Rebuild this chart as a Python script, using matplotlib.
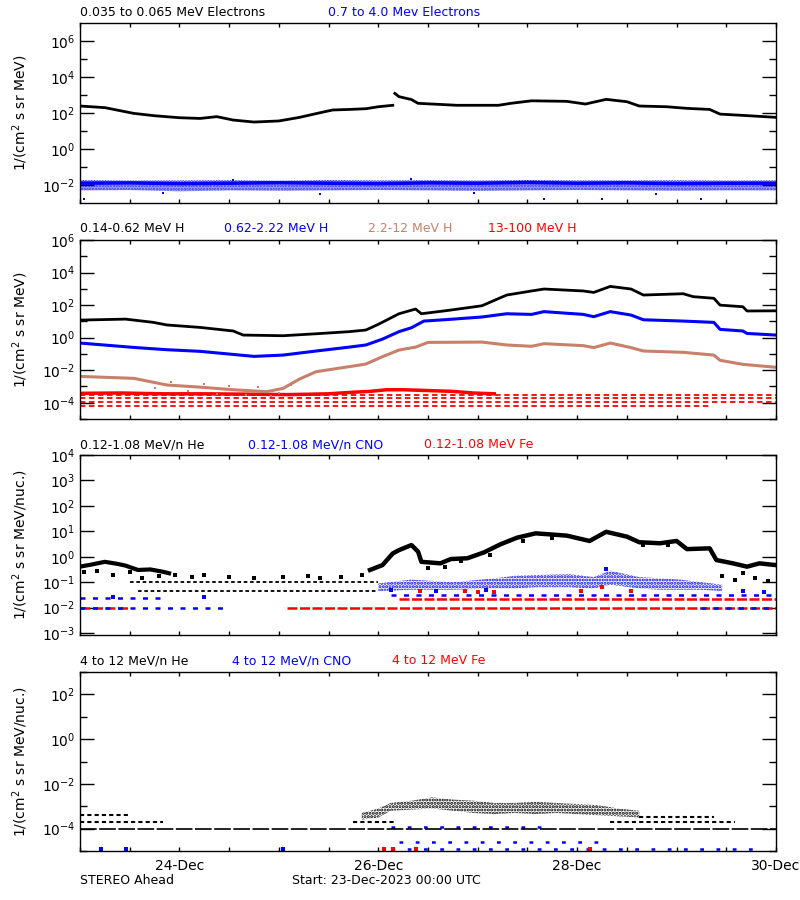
import numpy as np
import matplotlib.pyplot as plt

# time axis: hours since 23-Dec-2023 00:00 UTC, values stored as log10(intensity)

# ---- panel 1 : electrons
el_lo_t = [0, 6, 13, 18, 24, 29, 33, 37, 42, 48, 53, 58, 61, 65, 69, 72, 75.5]
el_lo_v = [2.39, 2.3, 1.98, 1.85, 1.74, 1.7, 1.8, 1.61, 1.5, 1.56, 1.76, 2.02, 2.17, 2.2, 2.24, 2.35, 2.43]
el_lo_t2 = [76, 77, 80, 81.6, 91, 101, 104, 109, 117.5, 122, 127, 132, 135, 141.6, 146.5, 152, 154.5, 160, 168]
el_lo_v2 = [3.09, 2.91, 2.75, 2.54, 2.43, 2.43, 2.54, 2.68, 2.65, 2.5, 2.76, 2.63, 2.39, 2.35, 2.26, 2.2, 1.94, 1.87, 1.76]
el_hi_t = [0, 12, 24, 36, 48, 60, 72, 84, 96, 108, 120, 132, 144, 156, 168]
el_hi_v = [-1.9, -1.88, -1.92, -1.9, -1.87, -1.9, -1.92, -1.88, -1.9, -1.86, -1.9, -1.88, -1.92, -1.9, -1.9]
el_hi_top = [-1.72, -1.75, -1.74, -1.73, -1.76, -1.72, -1.74, -1.73, -1.75, -1.72, -1.74, -1.74, -1.73, -1.75, -1.74]
el_hi_bot = [-2.3, -2.28, -2.35, -2.3, -2.32, -2.3, -2.28, -2.3, -2.33, -2.3, -2.28, -2.3, -2.32, -2.3, -2.3]
el_hi_pt_t = [1, 37, 80, 112, 126, 150, 20, 58, 95, 139]
el_hi_pt_v = [-2.75, -1.7, -1.68, -2.78, -2.8, -2.78, -2.45, -2.5, -2.45, -2.5]

# ---- panel 2 : protons
h1_t = [0, 11, 17.7, 21, 29, 37, 39.4, 49, 57, 65, 69, 72, 74, 77, 81, 82.4, 89, 97, 103, 109, 112,
        121.5, 124, 128, 133, 136, 145.6, 148, 153, 154.5, 160, 161, 168]
h1_v = [1.08, 1.14, 0.94, 0.78, 0.63, 0.41, 0.16, 0.12, 0.24, 0.37, 0.47, 0.82, 1.08, 1.47, 1.76, 1.47,
        1.68, 1.96, 2.62, 2.87, 2.99, 2.87, 2.78, 3.15, 2.99, 2.62, 2.7, 2.52, 2.42, 2.0, 1.9, 1.64, 1.65]
h2_t = [0, 13, 21, 29, 37, 42, 49, 57, 65, 69, 73, 77, 80, 83, 89, 97, 103, 109, 112, 121.5, 124,
        128, 133, 136, 145.6, 153, 154.5, 160, 161, 168]
h2_v = [-0.33, -0.6, -0.74, -0.84, -1.03, -1.15, -1.07, -0.82, -0.58, -0.45, -0.09, 0.37, 0.61, 1.02,
        1.12, 1.27, 1.47, 1.43, 1.6, 1.43, 1.29, 1.6, 1.39, 1.1, 1.02, 0.94, 0.51, 0.41, 0.26, 0.16]
h3_t = [0, 13, 21, 29, 37, 45, 49, 53, 57, 65, 69, 73, 77, 81, 84, 97, 103, 109, 112, 121.5, 124,
        128, 133, 136, 145.6, 153, 154.5, 160, 168]
h3_v = [-2.38, -2.5, -2.91, -3.04, -3.2, -3.32, -3.12, -2.54, -2.09, -1.78, -1.62, -1.17, -0.76, -0.58,
        -0.29, -0.27, -0.45, -0.53, -0.37, -0.49, -0.61, -0.33, -0.61, -0.82, -0.9, -1.07, -1.39, -1.64, -1.82]
h3_pt_t = [18, 22, 26, 30, 33, 36, 40, 43, 46, 48, 51]
h3_pt_v = [-3.1, -2.75, -3.25, -2.85, -3.45, -3.0, -3.55, -3.05, -3.6, -3.4, -2.9]
h4_t = [0, 10, 20, 30, 40, 50, 60, 66, 70, 74, 78, 84, 90, 95, 100]
h4_v = [-3.42, -3.4, -3.45, -3.45, -3.47, -3.5, -3.45, -3.35, -3.3, -3.2, -3.2, -3.25, -3.3, -3.4, -3.45]
h4_rows = [-3.55, -3.69, -3.94, -4.2]
h4_row_end = [168, 168, 168, 152]

# ---- panel 3 : low energy ions
he_t = [0, 3, 6, 9, 11, 14, 17, 20, 21.5]
he_v = [-0.39, -0.3, -0.2, -0.28, -0.35, -0.52, -0.5, -0.59, -0.65]
he_t2 = [70, 73, 75.5, 77, 80, 81.6, 82.4, 87, 89.5, 93.5, 97.5, 101.5, 105.5, 110, 117.5, 123, 127,
         132, 135, 140, 144, 146.5, 152, 153.6, 157.6, 161, 164, 168]
he_v2 = [-0.52, -0.33, 0.13, 0.26, 0.46, 0.2, -0.2, -0.26, -0.09, -0.06, 0.17, 0.49, 0.75, 0.92, 0.83,
         0.62, 0.98, 0.79, 0.57, 0.53, 0.62, 0.3, 0.33, -0.13, -0.26, -0.39, -0.26, -0.33]
he_pt_t = [1, 4, 8, 12, 15, 19, 23, 27, 30, 36, 42, 49, 55, 58, 63, 68, 155, 158, 160, 163, 166,
           84, 88, 92, 99, 107, 114, 121, 136, 142]
he_pt_v = [-0.62, -0.55, -0.7, -0.6, -0.85, -0.75, -0.7, -0.8, -0.72, -0.78, -0.85, -0.8, -0.75,
           -0.85, -0.8, -0.7, -0.75, -0.9, -0.65, -0.85, -0.95,
           -0.45, -0.4, -0.15, 0.05, 0.6, 0.75, 0.7, 0.45, 0.45]
he_rows = [-1.0, -1.34]
he_row_span = [(12, 72), (14, 72)]
cno_t = [72, 80, 90, 100, 105, 110, 118, 124, 128, 135, 140, 145, 150, 155]
cno_top = [-1.05, -0.9, -1.0, -0.85, -0.75, -0.72, -0.68, -0.8, -0.55, -0.8, -0.85, -0.9, -1.0, -1.1]
cno_bot = [-1.35, -1.3, -1.3, -1.25, -1.25, -1.2, -1.2, -1.25, -1.1, -1.25, -1.3, -1.3, -1.3, -1.35]
cno_pt_t = [8, 30, 75, 86, 160, 165, 98, 127]
cno_pt_v = [-1.6, -1.6, -1.3, -1.35, -1.35, -1.4, -1.3, -0.5]
cno_rows = [-2.0, -2.0, -1.5, -1.62]
cno_row_span = [(0, 35), (150, 168), (75, 168), (0, 20)]
fe_rows = [-2.0, -2.0, -1.67]
fe_row_span = [(0, 12), (50, 168), (77, 168)]
fe_pt_t = [82, 93, 96, 100, 121, 126, 133]
fe_pt_v = [-1.35, -1.35, -1.4, -1.4, -1.35, -1.2, -1.35]

# ---- panel 4 : high energy ions
he4_t = [68, 72, 75, 80, 85, 90, 95, 100, 105, 110, 115, 120, 125, 130, 135]
he4_top = [-3.3, -3.1, -2.85, -2.75, -2.6, -2.7, -2.75, -2.85, -2.85, -2.8, -2.85, -2.9, -2.95, -3.1, -3.2]
he4_bot = [-3.6, -3.5, -3.2, -3.15, -3.1, -3.2, -3.3, -3.35, -3.3, -3.35, -3.3, -3.35, -3.4, -3.45, -3.5]
he4_rows = [-4.0, -3.7, -3.7, -3.7, -3.41, -3.48]
he4_row_span = [(0, 168), (0, 20), (66, 76), (128, 158), (0, 12), (135, 153)]
cno4_rows = [-4.92, -4.6, -3.93]
cno4_row_span = [(75, 165), (77, 125), (75, 112)]
cno4_pt_t = [5, 11, 49]
cno4_pt_v = [-4.92, -4.92, -4.92]
fe4_pt_t = [73.5, 75.5, 81, 123]
fe4_pt_v = [-4.92, -4.92, -4.92, -4.92]

ticklab = ['24-Dec', '26-Dec', '28-Dec', '30-Dec']

BLUE = '#0000ff'
RED = '#ff0000'
TAN = '#c8806a'

plt.rcParams['font.family'] = ['DejaVu Sans']
plt.rcParams['font.size'] = 9
plt.rcParams['hatch.linewidth'] = 1.5

fig = plt.figure(figsize=(8, 9), dpi=100)


def lg(v):
    return 10.0 ** np.array(v)


def setup(ax, ylim, major, minor, ylabel, last=False):
    ax.set_xlim(0, 168)
    ax.set_yscale('log')
    ax.set_ylim(ylim)
    ax.set_yticks([10.0 ** m for m in major])
    ax.set_yticklabels(['$10^{%d}$' % m for m in major])
    ax.set_yticks([10.0 ** m for m in minor], minor=True)
    ax.yaxis.set_minor_formatter(plt.NullFormatter())
    ax.set_xticks([24, 72, 120, 168])
    ax.set_xticks(np.arange(0, 169, 12), minor=True)
    if last:
        ax.set_xticklabels(ticklab)
    else:
        ax.set_xticklabels([])
    ax.tick_params(which='both', direction='in', top=True, right=True, width=1, color='black')
    ax.tick_params(axis='y', which='major', length=10, labelsize=10)
    ax.tick_params(axis='y', which='minor', length=5)
    ax.tick_params(axis='x', which='both', length=3, labelsize=10, pad=6)
    ax.set_ylabel(ylabel, fontsize=10)
    ax.yaxis.set_label_coords(-0.072, 0.5)
    for s in ax.spines.values():
        s.set_linewidth(1)


def rows(ax, levels, spans, color, ls, lw=1.3):
    for lv, (a, b) in zip(levels, spans):
        ax.hlines(10.0 ** lv, a, b, colors=color, lw=lw, linestyles=[ls])


def cloud(ax, t, lo, hi, color, hatch):
    # scattered points of a noisy channel, drawn as a dotted hatch between envelopes
    ax.fill_between(t, lg(lo), lg(hi), facecolor='none', edgecolor=color, hatch=hatch, lw=0)


def title(y, items):
    for x, txt, c in items:
        fig.text(x / 800, 1 - y / 900, txt, color=c, ha='left', va='center', fontsize=9)


lab1 = '1/(cm$^2$ s sr MeV)'
lab2 = '1/(cm$^2$ s sr MeV/nuc.)'

# panel 1
ax1 = fig.add_axes([0.1, 0.7744, 0.87, 0.2])
cloud(ax1, el_hi_t, el_hi_bot, el_hi_top, BLUE, '......')
ax1.plot(el_hi_t, lg(el_hi_v), color=BLUE, lw=2.5)
ax1.plot(el_hi_pt_t, lg(el_hi_pt_v), 's', color=BLUE, ms=1.8, mew=0)
ax1.plot(el_lo_t, lg(el_lo_v), color='black', lw=2)
ax1.plot(el_lo_t2, lg(el_lo_v2), color='black', lw=2)
setup(ax1, (1e-3, 1e7), [-2, 0, 2, 4, 6], [-1, 1, 3, 5], lab1)
title(13, [(80, '0.035 to 0.065 MeV Electrons', 'black'), (328, '0.7 to 4.0 Mev Electrons', BLUE)])

# panel 2
ax2 = fig.add_axes([0.1, 0.5344, 0.87, 0.1989])
rows(ax2, h4_rows, [(0, e) for e in h4_row_end], RED, (0, (3, 2)))
ax2.plot(h4_t, lg(h4_v), color=RED, lw=2.5)
ax2.plot(h3_pt_t, lg(h3_pt_v), 's', color=TAN, ms=2, mew=0)
ax2.plot(h3_t, lg(h3_v), color=TAN, lw=2.2)
ax2.plot(h2_t, lg(h2_v), color=BLUE, lw=2.2)
ax2.plot(h1_t, lg(h1_v), color='black', lw=2)
setup(ax2, (1e-5, 1e6), [-4, -2, 0, 2, 4, 6], [-5, -3, -1, 1, 3, 5], lab1)
title(229, [(80, '0.14-0.62 MeV H', 'black'), (224, '0.62-2.22 MeV H', BLUE),
            (368, '2.2-12 MeV H', TAN), (488, '13-100 MeV H', RED)])

# panel 3
ax3 = fig.add_axes([0.1, 0.2944, 0.87, 0.2])
rows(ax3, fe_rows, fe_row_span, RED, (0, (4, 1)), lw=1.8)
rows(ax3, cno_rows, cno_row_span, BLUE, (0, (2, 3)), lw=1.8)
cloud(ax3, cno_t, cno_bot, cno_top, BLUE, '.....')
ax3.plot(cno_pt_t, lg(cno_pt_v), 's', color=BLUE, ms=2.2, mew=0)
ax3.plot(fe_pt_t, lg(fe_pt_v), 's', color=RED, ms=2.2, mew=0)
rows(ax3, he_rows, he_row_span, 'black', (0, (2, 1.5)))
ax3.plot(he_pt_t, lg(he_pt_v), 's', color='black', ms=2.2, mew=0)
ax3.plot(he_t, lg(he_v), color='black', lw=3)
ax3.plot(he_t2, lg(he_v2), color='black', lw=3.2)
setup(ax3, (10 ** -3.08, 1e4), [-3, -2, -1, 0, 1, 2, 3, 4], [], lab2)
title(445, [(80, '0.12-1.08 MeV/n He', 'black'), (248, '0.12-1.08 MeV/n CNO', BLUE),
            (424, '0.12-1.08 MeV Fe', RED)])

# panel 4
ax4 = fig.add_axes([0.1, 0.0544, 0.87, 0.1989])
rows(ax4, cno4_rows, cno4_row_span, BLUE, (0, (1.5, 5)), lw=1.8)
ax4.plot(cno4_pt_t, lg(cno4_pt_v), 's', color=BLUE, ms=2.2, mew=0)
ax4.plot(fe4_pt_t, lg(fe4_pt_v), 's', color=RED, ms=2.2, mew=0)
rows(ax4, he4_rows[:1], he4_row_span[:1], 'black', (0, (10, 1.5)), lw=1.2)
rows(ax4, he4_rows[1:], he4_row_span[1:], 'black', (0, (2, 1.5)), lw=1.5)
cloud(ax4, he4_t, he4_bot, he4_top, 'black', '.....')
setup(ax4, (1e-5, 1e3), [-4, -2, 0, 2], [-5, -3, -1, 1, 3], lab2, last=True)
title(661, [(80, '4 to 12 MeV/n He', 'black'), (232, '4 to 12 MeV/n CNO', BLUE),
            (392, '4 to 12 MeV Fe', RED)])

fig.text(80 / 800, 1 - 881 / 900, 'STEREO Ahead', ha='left', va='center', fontsize=9)
fig.text(292 / 800, 1 - 881 / 900, 'Start: 23-Dec-2023 00:00 UTC', ha='left', va='center', fontsize=9)

fig.savefig('out.png', dpi=100)
